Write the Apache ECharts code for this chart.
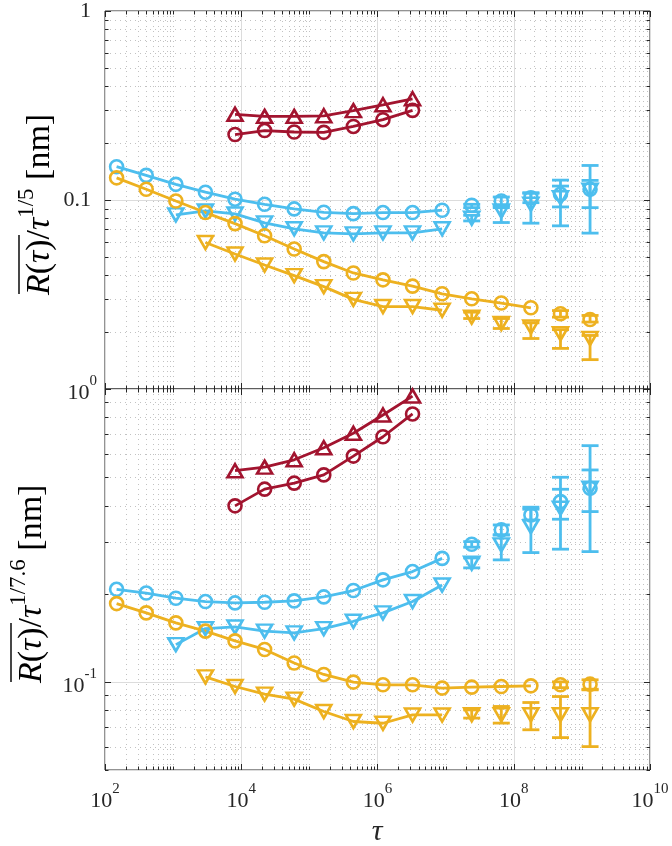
<!DOCTYPE html>
<html><head><meta charset="utf-8">
<script src="https://cdn.jsdelivr.net/npm/echarts@6/dist/echarts.min.js"></script>
<style>html,body{margin:0;padding:0;background:#fff}#c{width:672px;height:846px}</style>
</head><body><div id="c"></div>
<script>
// ---------- data ----------
const tau = [148, 403, 1097, 2981, 8103, 22026, 59874, 162755, 442413, 1202604,
  3269017, 8886111, 24154953, 65659969, 178482301, 485165195, 1318815734];

const redX = tau.slice(4, 11);
const cyanCircX = tau.slice(0, 12);
const cyanTriX = tau.slice(2, 12);
const orangeCircX = tau.slice(0, 15);
const orangeTriX = tau.slice(3, 12);
const tailX = tau.slice(12, 17);
const orangeCircTailX = tau.slice(15, 17);

// top panel  (R / tau^(1/5))
const redTriTop = [0.284, 0.277, 0.277, 0.279, 0.297, 0.319, 0.343];
const redCircTop = [0.222, 0.233, 0.229, 0.228, 0.245, 0.266, 0.298];
const cyanCircTop = [0.150, 0.135, 0.121, 0.110, 0.101, 0.0949, 0.0897, 0.0861, 0.0847, 0.0858, 0.0858, 0.0883];
const cyanTriTop = [0.0834, 0.0875, 0.0844, 0.0757, 0.0704, 0.0670, 0.0662, 0.0670, 0.0670, 0.0704];
const orangeCircTop = [0.131, 0.114, 0.0988, 0.0858, 0.0750, 0.0647, 0.0550, 0.0472, 0.0411, 0.0378, 0.0350, 0.0319, 0.0300, 0.0285, 0.0269];
const orangeTriTop = [0.0596, 0.0518, 0.0453, 0.0398, 0.0348, 0.0298, 0.0273, 0.0273, 0.0261];
const cyanCircTopTail = [0.0938, 0.0988, 0.1028, 0.1072, 0.1139];
const cyanCircTopLo = [0.0911, 0.0930, 0.0968, 0.0919, 0.0911];
const cyanCircTopHi = [0.0949, 0.1037, 0.1085, 0.1185, 0.1270];
const cyanTriTopTail = [0.0800, 0.0875, 0.0949, 0.1028, 0.1125];
const cyanTriTopLo = [0.0775, 0.0760, 0.0754, 0.0730, 0.0668];
const cyanTriTopHi = [0.0830, 0.0911, 0.1093, 0.1274, 0.1523];
const orangeCircTopTail = [0.0250, 0.0233];
const orangeCircTopLo = [0.0240, 0.0226];
const orangeCircTopHi = [0.0260, 0.0245];
const orangeTriTopTail = [0.0240, 0.0222, 0.0213, 0.0196, 0.0185];
const orangeTriTopLo = [0.0236, 0.0209, 0.0185, 0.0164, 0.0143];
const orangeTriTopHi = [0.0255, 0.0236, 0.0224, 0.0206, 0.0192];

// bottom panel (R / tau^(1/7.6))
const redTriBot = [0.526, 0.541, 0.573, 0.630, 0.706, 0.815, 0.946];
const redCircBot = [0.399, 0.455, 0.477, 0.509, 0.590, 0.687, 0.822];
const cyanCircBot = [0.207, 0.201, 0.193, 0.188, 0.186, 0.187, 0.189, 0.195, 0.205, 0.223, 0.238, 0.264];
const cyanTriBot = [0.134, 0.152, 0.154, 0.149, 0.147, 0.152, 0.161, 0.172, 0.188, 0.214];
const orangeCircBot = [0.185, 0.172, 0.159, 0.149, 0.138, 0.129, 0.116, 0.106, 0.0998, 0.0977, 0.0977, 0.0952, 0.0959, 0.0964, 0.0969];
const orangeTriBot = [0.104, 0.0964, 0.0908, 0.0873, 0.0792, 0.0732, 0.0722, 0.0771, 0.0771];
const cyanCircBotTail = [0.2951, 0.3302, 0.3715, 0.4125, 0.4582];
const cyanCircBotLo = [0.2883, 0.3175, 0.3572, 0.3592, 0.3814];
const cyanCircBotHi = [0.3012, 0.3434, 0.3886, 0.4546, 0.5291];
const cyanTriBotTail = [0.2542, 0.2935, 0.3388, 0.3917, 0.4582];
const cyanTriBotLo = [0.2450, 0.2609, 0.2763, 0.2838, 0.2784];
const cyanTriBotHi = [0.2649, 0.3175, 0.3948, 0.4996, 0.6405];
const orangeCircBotTail = [0.0977, 0.0982];
const orangeCircBotLo = [0.0955, 0.0939];
const orangeCircBotHi = [0.1000, 0.1016];
const orangeTriBotTail = [0.0772, 0.0772, 0.0772, 0.0772, 0.0772];
const orangeTriBotLo = [0.0752, 0.0723, 0.0686, 0.0645, 0.0601];
const orangeTriBotHi = [0.0802, 0.0824, 0.0850, 0.0891, 0.0944];

// axis ticks
const xLabelExps = [2, 4, 6, 8, 10];
const xDecadeExps = [2, 3, 4, 5, 6, 7, 8, 9];
const yTopDecadeExps = [-2, -1];
const yBotDecadeExps = [-2, -1];
const mults = [1, 2, 3, 4, 5, 6, 7, 8, 9];

// ---------- styling ----------
const COL = {cyan: '#4DBEEE', orange: '#EDB120', red: '#A2142F'};
const FONT = 'Liberation Serif';
const INK = '#262626';
const X_MIN = 100, X_MAX = 1e10;
const Y_RANGE = [[0.01, 1], [0.05, 1]];

function pairs(xs, ys) { return ys.map((y, i) => [xs[i], y]); }
function triples(xs, lo, hi) { return lo.map((l, i) => [xs[i], l, hi[i]]); }

function markerStyle(shape) {
  return shape === 'o'
    ? {symbol: 'circle', symbolSize: 13, symbolRotate: 0}
    : {symbol: 'triangle', symbolSize: [15, 13], symbolRotate: shape === 'v' ? 180 : 0};
}
function lineS(g, xs, ys, color, shape) {
  return Object.assign({
    type: 'line', xAxisIndex: g, yAxisIndex: g, data: pairs(xs, ys),
    showSymbol: true, lineStyle: {color: color, width: 2.8},
    itemStyle: {color: 'rgba(255,255,255,0)', borderColor: color, borderWidth: 2.6},
    z: 5, silent: true, animation: false
  }, markerStyle(shape));
}
function scatS(g, xs, ys, color, shape) {
  return Object.assign({
    type: 'scatter', xAxisIndex: g, yAxisIndex: g, data: pairs(xs, ys),
    itemStyle: {color: 'rgba(255,255,255,0)', borderColor: color, borderWidth: 2.6, opacity: 1},
    z: 6, silent: true, animation: false
  }, markerStyle(shape));
}
function errS(g, xs, lo, hi, color) {
  return {
    type: 'custom', xAxisIndex: g, yAxisIndex: g, data: triples(xs, lo, hi),
    encode: {x: 0, y: [1, 2]}, z: 4, silent: true, animation: false,
    renderItem: function (p, api) {
      const x = api.value(0), a = api.coord([x, api.value(1)]), b = api.coord([x, api.value(2)]);
      const w = 8.5, st = {stroke: color, lineWidth: 2.8};
      return {type: 'group', children: [
        {type: 'line', shape: {x1: a[0], y1: a[1], x2: b[0], y2: b[1]}, style: st},
        {type: 'line', shape: {x1: a[0] - w, y1: a[1], x2: a[0] + w, y2: a[1]}, style: st},
        {type: 'line', shape: {x1: b[0] - w, y1: b[1], x2: b[0] + w, y2: b[1]}, style: st}
      ]};
    }
  };
}

// tick value lists (decoration only)
const xTicks = [];
xDecadeExps.forEach(e => mults.forEach(m => {
  xTicks.push([m * Math.pow(10, e), 0.1, (m === 1 && xLabelExps.indexOf(e) >= 0) ? 1 : 0]);
}));
xTicks.push([X_MAX, 0.1, 1]);
function yTickList(exps, lo) {
  const out = [];
  exps.forEach(e => mults.forEach(m => {
    const v = +(m * Math.pow(10, e)).toPrecision(6);
    if (v >= lo - 1e-12) out.push([1000, v, m === 1 ? 1 : 0]);
  }));
  out.push([1000, 1, 1]);
  return out;
}
const yTicksTop = yTickList(yTopDecadeExps, Y_RANGE[0][0]);
const yTicksBot = yTickList(yBotDecadeExps, Y_RANGE[1][0]);

const DOT = {stroke: '#c2c2c2', lineWidth: 1, lineDash: [1, 4]};
const TK = {stroke: INK, lineWidth: 1};

function xTickS(g) {
  return {
    type: 'custom', xAxisIndex: g, yAxisIndex: g, data: xTicks, z: 1, silent: true, animation: false,
    renderItem: function (p, api) {
      const cs = p.coordSys, v = api.value(0), major = api.value(2) === 1;
      const x = Math.round(api.coord([v, 0.1])[0]) + 0.5;
      const top = cs.y, bot = cs.y + cs.height, len = major ? 6 : 3.5;
      const ch = [
        {type: 'line', shape: {x1: x, y1: bot, x2: x, y2: bot - len}, style: TK, z2: 10},
        {type: 'line', shape: {x1: x, y1: top, x2: x, y2: top + len}, style: TK, z2: 10}
      ];
      if (!major && v > X_MIN && v < X_MAX) ch.push({type: 'line', shape: {x1: x, y1: top, x2: x, y2: bot}, style: DOT});
      return {type: 'group', children: ch};
    }
  };
}
function yTickS(g, list) {
  return {
    type: 'custom', xAxisIndex: g, yAxisIndex: g, data: list, z: 1, silent: true, animation: false,
    renderItem: function (p, api) {
      const cs = p.coordSys, v = api.value(1), major = api.value(2) === 1;
      const y = Math.round(api.coord([1000, v])[1]) + 0.5;
      const l = cs.x, r = cs.x + cs.width, len = major ? 6 : 3.5;
      const ch = [
        {type: 'line', shape: {x1: l, y1: y, x2: l + len, y2: y}, style: TK, z2: 10},
        {type: 'line', shape: {x1: r, y1: y, x2: r - len, y2: y}, style: TK, z2: 10}
      ];
      if (!major && v > Y_RANGE[g][0] && v < Y_RANGE[g][1]) ch.push({type: 'line', shape: {x1: l, y1: y, x2: r, y2: y}, style: DOT});
      return {type: 'group', children: ch};
    }
  };
}

function supRich(base, sup) {
  return {
    b: {fontFamily: FONT, fontSize: base, color: INK, lineHeight: base + 8, verticalAlign: 'bottom'},
    s: {fontFamily: FONT, fontSize: sup, color: INK, lineHeight: sup, verticalAlign: 'top'}
  };
}
function isPow10(v) { const e = Math.log10(v); return Math.abs(e - Math.round(e)) < 1e-6; }

const splitLine = {show: true, lineStyle: {color: '#dcdcdc', width: 1}};
const nameRich = {
  i: {fontFamily: FONT, fontStyle: 'italic', fontSize: 34, color: INK, lineHeight: 42, verticalAlign: 'bottom'},
  n: {fontFamily: FONT, fontSize: 34, color: INK, lineHeight: 42, verticalAlign: 'bottom'},
  s: {fontFamily: FONT, fontSize: 23, color: INK, lineHeight: 23, verticalAlign: 'top'}
};

const option = {
  animation: false,
  backgroundColor: '#fff',
  grid: [
    {left: 105, top: 9, width: 545, height: 380, show: true, borderColor: INK, borderWidth: 1, backgroundColor: 'transparent'},
    {left: 105, top: 389, width: 545, height: 381, show: true, borderColor: INK, borderWidth: 1, backgroundColor: 'transparent'}
  ],
  xAxis: [
    {type: 'log', logBase: 10, gridIndex: 0, min: X_MIN, max: X_MAX, interval: 2,
      axisLine: {show: false}, axisTick: {show: false}, axisLabel: {show: false}, splitLine: splitLine},
    {type: 'log', logBase: 10, gridIndex: 1, min: X_MIN, max: X_MAX, interval: 2,
      axisLine: {show: false}, axisTick: {show: false}, splitLine: splitLine,
      axisLabel: {show: true, margin: 12, showMinLabel: true, showMaxLabel: true, rich: supRich(22, 15),
        formatter: function (v) {
          const e = Math.round(Math.log10(v));
          if (!isPow10(v) || xLabelExps.indexOf(e) < 0) return '';
          return '{b|10}{s|' + e + '}';
        }}}
  ],
  yAxis: [
    {type: 'log', logBase: 10, gridIndex: 0, min: Y_RANGE[0][0], max: Y_RANGE[0][1],
      axisLine: {show: false}, axisTick: {show: false}, splitLine: splitLine,
      axisLabel: {show: true, margin: 14, fontFamily: FONT, fontSize: 22, color: INK, showMinLabel: true, showMaxLabel: true,
        formatter: function (v) {
          if (Math.abs(v - 1) < 1e-9) return '1';
          if (Math.abs(v - 0.1) < 1e-9) return '0.1';
          return '';
        }}},
    {type: 'log', logBase: 10, gridIndex: 1, min: Y_RANGE[1][0], max: Y_RANGE[1][1],
      axisLine: {show: false}, axisTick: {show: false}, splitLine: splitLine,
      axisLabel: {show: true, margin: 8, showMinLabel: true, showMaxLabel: true, rich: supRich(22, 15),
        formatter: function (v) {
          if (!isPow10(v)) return '';
          return '{b|10}{s|' + Math.round(Math.log10(v)) + '}';
        }}}
  ],
  graphic: [
    {type: 'group', x: 36, y: 295, rotation: Math.PI / 2, children: [
      {type: 'text', x: 0, y: 0, style: {
        text: '{i|R}{n|(}{i|τ}{n|)/}{i|τ}{s|1/5}{n| [nm]}', align: 'left', verticalAlign: 'middle', rich: nameRich}},
      {type: 'line', shape: {x1: 1, y1: -17, x2: 60, y2: -17}, style: {stroke: INK, lineWidth: 1.7}}
    ]},
    {type: 'group', x: 28, y: 683, rotation: Math.PI / 2, children: [
      {type: 'text', x: 0, y: 0, style: {
        text: '{i|R}{n|(}{i|τ}{n|)/}{i|τ}{s|1/7.6}{n| [nm]}', align: 'left', verticalAlign: 'middle', rich: nameRich}},
      {type: 'line', shape: {x1: 1, y1: -17, x2: 60, y2: -17}, style: {stroke: INK, lineWidth: 1.7}}
    ]},
    {type: 'text', x: 377, y: 832, style: {text: 'τ', fontFamily: FONT, fontStyle: 'italic', fontSize: 30, fill: INK, align: 'center', verticalAlign: 'middle'}}
  ],
  series: [
    xTickS(0), yTickS(0, yTicksTop), xTickS(1), yTickS(1, yTicksBot),
    // top panel
    errS(0, tailX, cyanCircTopLo, cyanCircTopHi, COL.cyan),
    errS(0, tailX, cyanTriTopLo, cyanTriTopHi, COL.cyan),
    errS(0, orangeCircTailX, orangeCircTopLo, orangeCircTopHi, COL.orange),
    errS(0, tailX, orangeTriTopLo, orangeTriTopHi, COL.orange),
    lineS(0, redX, redTriTop, COL.red, '^'),
    lineS(0, redX, redCircTop, COL.red, 'o'),
    lineS(0, cyanCircX, cyanCircTop, COL.cyan, 'o'),
    lineS(0, cyanTriX, cyanTriTop, COL.cyan, 'v'),
    lineS(0, orangeCircX, orangeCircTop, COL.orange, 'o'),
    lineS(0, orangeTriX, orangeTriTop, COL.orange, 'v'),
    scatS(0, tailX, cyanCircTopTail, COL.cyan, 'o'),
    scatS(0, tailX, cyanTriTopTail, COL.cyan, 'v'),
    scatS(0, orangeCircTailX, orangeCircTopTail, COL.orange, 'o'),
    scatS(0, tailX, orangeTriTopTail, COL.orange, 'v'),
    // bottom panel
    errS(1, tailX, cyanCircBotLo, cyanCircBotHi, COL.cyan),
    errS(1, tailX, cyanTriBotLo, cyanTriBotHi, COL.cyan),
    errS(1, orangeCircTailX, orangeCircBotLo, orangeCircBotHi, COL.orange),
    errS(1, tailX, orangeTriBotLo, orangeTriBotHi, COL.orange),
    lineS(1, redX, redTriBot, COL.red, '^'),
    lineS(1, redX, redCircBot, COL.red, 'o'),
    lineS(1, cyanCircX, cyanCircBot, COL.cyan, 'o'),
    lineS(1, cyanTriX, cyanTriBot, COL.cyan, 'v'),
    lineS(1, orangeCircX, orangeCircBot, COL.orange, 'o'),
    lineS(1, orangeTriX, orangeTriBot, COL.orange, 'v'),
    scatS(1, tailX, cyanCircBotTail, COL.cyan, 'o'),
    scatS(1, tailX, cyanTriBotTail, COL.cyan, 'v'),
    scatS(1, orangeCircTailX, orangeCircBotTail, COL.orange, 'o'),
    scatS(1, tailX, orangeTriBotTail, COL.orange, 'v')
  ]
};
const chart = echarts.init(document.getElementById('c'), null, {renderer: 'canvas'});
chart.setOption(option);
</script></body></html>
